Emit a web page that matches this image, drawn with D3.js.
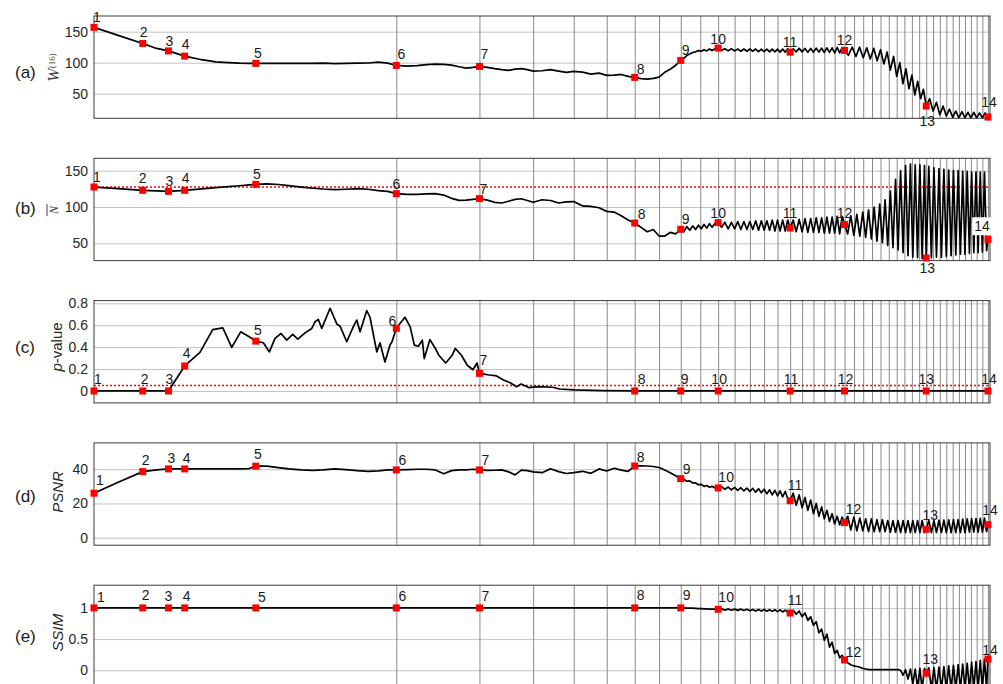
<!DOCTYPE html>
<html>
<head>
<meta charset="utf-8">
<title>Stage-wise metrics</title>
<script src="https://cdn.jsdelivr.net/npm/d3@7"></script>
<style>
  html, body { margin: 0; padding: 0; background: #fff; }
  svg { display: block; }
</style>
</head>
<body>
<svg id="fig" width="1003" height="684"></svg>
<script>
// ---------------------------------------------------------------------------
// Data
// ---------------------------------------------------------------------------

// iteration count of every plotted W sample (also the head of the finer grid)
const iter = [
  1, 1.5, 2.2, 2.7, 3.2, 4, 5, 6, 7, 8, 9, 9.7, 11, 12.5, 14, 16, 18, 20, 22.5, 25, 28, 31, 34, 37, 40,
  44, 48, 52, 56, 60, 64, 68, 72, 76, 80,
  85, 90, 95, 100, 105, 110, 115, 120,
  128, 136, 144, 152, 160,
  170, 180, 190, 200,
  210, 220, 230, 240,
  250, 260, 270, 280,
  290, 300, 310, 320,
  326, 332, 338, 344, 350, 356, 362, 368, 374, 380, 386, 393, 400,
  408, 416, 424, 432, 440, 448, 456, 464, 472, 480, 488, 496, 504, 512, 520, 528, 536, 544, 552, 560, 568, 576, 584, 592, 600,
  610, 620, 630, 640, 650, 660, 670, 680, 690, 700, 710, 720, 730, 740, 750, 760, 770, 780, 790, 800,
  816, 832, 848, 864, 880, 896, 912, 928, 944, 960, 976, 992, 1008, 1024, 1040, 1056, 1072, 1088, 1104, 1120, 1136, 1152, 1168, 1184, 1200,
  1220, 1240, 1260, 1280, 1300, 1320, 1340, 1360, 1380, 1400, 1420, 1440, 1460, 1480, 1500, 1520, 1540, 1560, 1580, 1600
];

// denser sampling after iteration 800 (used by N, PSNR and SSIM)
const fineTail = [
  813, 826, 839, 852, 865, 878, 891, 904, 917, 930, 943, 956, 969, 982, 995, 1008, 1021, 1034, 1047, 1060,
  1073, 1086, 1099, 1112, 1125, 1138, 1151, 1164, 1177, 1190, 1200,
  1215, 1230, 1245, 1260, 1275, 1290, 1305, 1320, 1335, 1350, 1365, 1380, 1395, 1410, 1425, 1440, 1455,
  1470, 1485, 1500, 1515, 1530, 1545, 1560, 1575, 1590, 1600
];
const iterFine = iter.filter(t => t <= 800).concat(fineTail);

// W^(16)
const wValues = [
  157, 144, 131, 123, 119, 110.6, 104.8, 101.3, 100, 99.2, 98.9, 98.9, 99, 99, 99, 99, 99, 99.2, 98.4, 99, 99.2, 99.5, 101, 99.3, 95.6,
  94.5, 95.2, 96.8, 97.7, 97.3, 96.1, 93.5, 91.3, 92.4, 94,
  92.4, 90.3, 88.7, 87.6, 89.7, 90.3, 88.7, 86.5,
  87, 88.7, 86.5, 84.4, 86,
  84.8, 81.6, 83.2, 79.5,
  80, 81, 78, 76.3,
  74.2, 73.5, 74.7, 76.8,
  84.5, 89.5, 95.5, 103.7,
  107, 111.5, 114, 116.5, 117.5, 119.5, 118.5, 121, 119, 122, 119.5, 122.5, 123.5,
  119.5, 122.5, 119, 122.5, 119, 122, 118.5, 122, 118.5, 122, 118.5, 122, 118, 122, 118, 122, 117.5, 122, 117.5, 122, 117, 122, 117, 122.5, 117,
  122.5, 117.5, 123, 117.5, 123, 117, 123, 117, 123.5, 117, 123.5, 116.5, 124, 116.5, 124, 116, 124.5, 116, 124.5, 119.8,
  112, 125, 110, 125, 108, 124, 106, 123, 103, 121, 98, 117, 88, 110, 78, 100, 66, 90, 58, 80, 48, 70, 42, 57, 30,
  42, 22, 36, 16, 30, 14, 25, 12, 22, 11, 21, 11, 20, 11, 20, 11, 19, 11, 19, 12.3
];

// mean N (on iterFine)
const nValues = [
  127.5, 125.3, 123, 122.3, 121.6, 123, 124.9, 126.6, 128, 129.3, 130.4, 131.2, 132, 131, 129.5, 127.5, 126, 124.8, 124, 124.5, 125.3, 124.5, 122.5, 121.5, 118.4,
  117.5, 117.5, 118, 118.4, 116.5, 112, 109.2, 109.5, 110.6, 111.6,
  109.5, 106.5, 105.5, 108, 110.6, 111.4, 109, 106.5,
  110, 109, 105.5, 107, 107.5,
  101.5, 101, 99, 94,
  93, 88, 82, 78,
  72, 66, 69, 60,
  60, 65, 63, 69.3,
  66, 73, 68, 74, 69, 75, 70, 76, 71, 77, 72, 78, 78.5,
  72, 79, 70, 79, 70, 80, 69, 80, 69, 80, 69, 81, 68, 81, 68, 81, 68, 82, 67, 82, 67, 82, 67, 82, 71,
  82, 66, 83, 66, 84, 65, 84, 65, 85, 65, 85, 64, 86, 64, 86, 64, 87, 63, 87, 75.8,
  63, 88, 61, 90, 60, 93, 58, 96, 56, 100, 53, 104, 51, 110, 47, 122, 44, 138, 41, 150,
  37, 157, 33, 159, 31, 158, 30, 158, 29, 157, 29.8,
  156, 30, 154, 31, 153, 31, 152, 32, 151, 33, 150, 34, 150, 35, 149, 35, 149, 36,
  148, 37, 148, 37, 148, 38, 148, 40, 55.6
];

// PSNR in dB (on iterFine)
const psnrValues = [
  26, 32.4, 38.6, 39.6, 40.2, 40.2, 40.2, 40.2, 40.2, 40.2, 40.4, 41.8, 41.8, 41, 40.2, 39.6, 39.3, 39.6, 40.2, 39.8, 39.2, 38.8, 39, 39.6, 39.6,
  39.8, 40, 40, 39.6, 37.4, 39.2, 39.6, 39.6, 40, 39.6,
  39.3, 39.4, 39.6, 38.5, 36.7, 39.5, 39.2, 38.5,
  38, 40.3, 38.6, 37.5, 38,
  38.8, 37.6, 40.2, 39,
  40.6, 39.5, 38.8, 41.9,
  42, 41.9, 41.6, 41,
  39.6, 38, 36.2, 34.5,
  34.2, 33, 33.2, 32, 32, 30.9, 31.2, 30, 30.5, 29.5, 30, 29, 29.1,
  29.8, 28.2, 29.6, 27.9, 29.4, 27.6, 29.2, 27.3, 29, 27, 28.8, 26.6, 28.6, 26.2, 28.3, 25.6, 28, 25, 27.7, 24.5, 27.4, 23.8, 27, 23, 21.6,
  26, 19, 25, 17.5, 23.5, 16, 22, 14, 20, 12.5, 18, 11, 16, 9.5, 14, 8, 12.5, 7.5, 12, 8.8,
  12.5, 4.5, 12, 4, 11.5, 4, 11, 3.5, 11, 3.5, 10.5, 3.5, 10.5, 3.5, 10, 3.2, 10, 3.2, 10, 3, 10,
  3, 10, 3, 10, 3, 10, 3, 10, 3, 4.9,
  10, 3, 10, 3, 10.2, 3, 10.3, 3, 10.4, 3, 10.5, 3, 10.6, 3, 10.8, 3, 11, 3.2,
  11.1, 3.2, 11.2, 3.2, 11.3, 3.2, 11.4, 3.5, 7.6
];

// SSIM (on iterFine)
const ssimValues = [
  1, 1, 1, 1, 1, 1, 1, 1, 1, 1, 1, 1, 1, 1, 1, 1, 1, 1, 1, 1, 1, 1, 1, 1, 1,
  1, 1, 1, 1, 1, 1, 1, 1, 1, 1,
  1, 1, 1, 1, 1, 1, 1, 1,
  1, 1, 1, 1, 1,
  1, 1, 1, 1,
  1, 1, 1, 1,
  1, 1, 1, 1,
  1, 1, 1, 1,
  1, 0.998, 0.996, 0.995, 0.993, 0.99, 0.988, 0.986, 0.984, 0.982, 0.98, 0.979, 0.978,
  0.985, 0.965, 0.983, 0.963, 0.981, 0.96, 0.98, 0.958, 0.978, 0.955, 0.976, 0.952, 0.975, 0.95, 0.974, 0.947, 0.972, 0.944, 0.97, 0.94, 0.968, 0.935, 0.965, 0.93, 0.918,
  0.96, 0.9, 0.95, 0.86, 0.92, 0.8, 0.86, 0.72, 0.78, 0.6, 0.66, 0.48, 0.58, 0.37, 0.45, 0.27, 0.32, 0.2, 0.24, 0.165,
  0.12, 0.09, 0.07, 0.06, 0.05, 0.03, 0.02, 0.01, 0.01, 0.01, 0.01, 0.01, 0.01, 0.01, 0.01, 0.01, 0.01, 0.01, 0.01, 0,
  -0.08, 0.01, -0.14, 0.02, -0.22, 0.02, -0.28, 0.03, -0.3, 0.03, -0.048,
  0.04, -0.3, 0.045, -0.3, 0.05, -0.3, 0.06, -0.3, 0.07, -0.3, 0.08, -0.3, 0.09, -0.3, 0.1, -0.3, 0.11, -0.3,
  0.13, -0.3, 0.14, -0.3, 0.16, -0.3, 0.18, -0.3, 0.181
];

// p-value, traced on its own iteration grid
const pIter = [
  1, 2.2, 3.2, 4, 4.9, 5.77, 6.55, 7.3, 8.13, 8.9, 9.7, 10.57, 11.31, 12.05, 12.87, 13.69, 14.61, 15.41,
  16.63, 17.83, 18.44, 19.07, 19.74, 21.46, 22.93, 23.68, 25.27, 26.92, 27.82, 28.7, 30.56, 31.5, 33.52,
  34.54, 36.13, 37.79, 38.5, 40, 43.15, 45.15, 46.85, 48.5, 50.15, 51, 53.5, 56, 57.65, 61, 64.35, 66,
  69.35, 72.65, 76, 78.5, 80, 86.4, 91.3, 96.3, 101.3, 106.2, 109.9, 116.1, 124.7, 138, 144.7, 160, 195,
  240, 320, 400, 600, 800, 1200, 1600
];
const pValues = [
  0, 0, 0, 0.228, 0.352, 0.56, 0.576, 0.398, 0.54, 0.5, 0.455, 0.44, 0.357, 0.48, 0.525, 0.464, 0.516, 0.473,
  0.53, 0.571, 0.632, 0.653, 0.571, 0.755, 0.612, 0.592, 0.449, 0.587, 0.647, 0.54, 0.734, 0.673, 0.357,
  0.439, 0.265, 0.418, 0.449, 0.572, 0.673, 0.587, 0.418, 0.408, 0.464, 0.296, 0.469, 0.388, 0.326, 0.255, 0.326, 0.388,
  0.326, 0.235, 0.194, 0.255, 0.161, 0.146, 0.137, 0.1, 0.075, 0.039, 0.063, 0.031, 0.039, 0.034, 0.018, 0.01, 0.003,
  0, 0, 0, 0, 0, 0, 0
];

// the fourteen highlighted stages
const stageIter = [1, 2.2, 3.2, 4, 9.7, 40, 80, 240, 320, 400, 600, 800, 1200, 1600];
const stageW    = [157, 131, 119, 110.6, 98.9, 95.6, 94, 76.3, 103.7, 123.5, 117, 119.8, 30, 12.3];
const stageN    = [127.5, 123, 121.6, 123, 131.2, 118.4, 111.6, 78, 69.3, 78.5, 71, 75.8, 29.8, 55.6];
const stageP    = [0, 0, 0, 0.228, 0.455, 0.572, 0.161, 0, 0, 0, 0, 0, 0, 0];
const stagePSNR = [26, 38.6, 40.2, 40.2, 41.8, 39.6, 39.6, 41.9, 34.5, 29.1, 21.6, 8.8, 4.9, 7.6];
const stageSSIM = [1, 1, 1, 1, 1, 1, 1, 1, 1, 0.978, 0.918, 0.165, -0.048, 0.181];
const stageNames = ['1', '2', '3', '4', '5', '6', '7', '8', '9', '10', '11', '12', '13', '14'];

// reference levels (red dotted lines)
const refN = 127.5;
const refP = 0.05;

// vertical grid positions (every 40 iterations)
const gridIter = [
  40, 80, 120, 160, 200, 240, 280, 320, 360, 400, 440, 480, 520, 560, 600, 640, 680, 720, 760, 800,
  840, 880, 920, 960, 1000, 1040, 1080, 1120, 1160, 1200, 1240, 1280, 1320, 1360, 1400, 1440, 1480, 1520, 1560, 1600
];

// y tick values per panel
const ticksW = [50, 100, 150];
const ticksN = [50, 100, 150];
const ticksP = [0, 0.2, 0.4, 0.6, 0.8];
const ticksPSNR = [0, 20, 40];
const ticksSSIM = [0, 0.5, 1];

// ---------------------------------------------------------------------------
// Layout
// ---------------------------------------------------------------------------
const svg = d3.select('#fig');
const left = 94, right = 990;
const top0 = 16, step = 142.3, plotH = 102.3;
const sans = '"Liberation Sans", Arial, Helvetica, sans-serif';
const serif = '"Liberation Serif", "DejaVu Serif", "Times New Roman", serif';
const ink = '#262626';

const x = d3.scalePow().exponent(0.182).domain([1, 1615]).range([left, right]);

// nudges of the stage numbers relative to their markers, per panel
const labelNudge = [
  [[3,-5],[1,-6],[1,-5],[1,-7],[2,-5],[5,-6],[5,-7],[6,-3],[5,-5],[0,-4],[0,-5],[0,-5],[1,20],[1,-10]],
  [[3,-5],[0,-7],[1,-5],[1,-7],[1,-5],[0,-5],[4,-5],[7,-4],[5,-5],[0,-5],[0,-10],[0,-7],[1,15],[-6,-8]],
  [[4,-7],[2,-7],[1,-7],[2,-8],[2,-6],[-4,-2],[4,-8],[7,-7],[4,-7],[1,-7],[1,-7],[1,-7],[0,-7],[1,-7]],
  [[6,-8],[3,-7],[3,-6],[2,-6],[2,-7],[6,-5],[6,-5],[6,-4],[6,-5],[8,-6],[5,-11],[9,-9],[4,-9],[2,-10]],
  [[7,-6],[3,-8],[0,-7],[2,-7],[6,-6],[6,-7],[6,-7],[6,-8],[6,-8],[8,-7],[5,-8],[9,-3],[4,-9],[2,-4]]
];

const panels = [
  { tag: '(a)', tagY: 78,  xs: iter,     ys: wValues,    stages: stageW,    ticks: ticksW,    domain: [10.3, 175.3], ref: null, boxed: [] },
  { tag: '(b)', tagY: 214, xs: iterFine, ys: nValues,    stages: stageN,    ticks: ticksN,    domain: [26.2, 167.1], ref: refN, boxed: ['14'] },
  { tag: '(c)', tagY: 353, xs: pIter,    ys: pValues,    stages: stageP,    ticks: ticksP,    domain: [-0.109, 0.825], ref: refP, boxed: [] },
  { tag: '(d)', tagY: 502, xs: iterFine, ys: psnrValues, stages: stagePSNR, ticks: ticksPSNR, domain: [-4.4, 55.4], ref: null, boxed: [] },
  { tag: '(e)', tagY: 642, xs: iterFine, ys: ssimValues, stages: stageSSIM, ticks: ticksSSIM, domain: [-0.276, 1.364], ref: null, boxed: [] }
];

const defs = svg.append('defs');

panels.forEach((p, i) => {
  const top = top0 + i * step;
  const bottom = top + plotH;
  const y = d3.scaleLinear().domain(p.domain).range([bottom, top]);
  const g = svg.append('g');

  defs.append('clipPath').attr('id', 'plot' + i)
    .append('rect').attr('x', left).attr('y', top).attr('width', right - left).attr('height', plotH);

  // horizontal grid + tick labels
  g.append('g')
    .attr('transform', `translate(${left},0)`)
    .call(d3.axisLeft(y).tickValues(p.ticks).tickSize(-(right - left)).tickPadding(6).tickFormat(d3.format('~g')))
    .call(a => {
      a.select('.domain').remove();
      a.selectAll('.tick line').attr('stroke', '#c2c2c2').attr('stroke-width', 1);
      a.selectAll('.tick text').attr('fill', ink).attr('font-size', 14).attr('font-family', sans);
    });

  // vertical grid
  g.append('g')
    .attr('transform', `translate(0,${bottom})`)
    .call(d3.axisBottom(x).tickValues(gridIter).tickSize(-plotH).tickFormat(''))
    .call(a => {
      a.select('.domain').remove();
      a.selectAll('.tick line').attr('stroke', '#8a8a8a').attr('stroke-width', 1);
    });

  // axes box
  g.append('rect')
    .attr('x', left).attr('y', top).attr('width', right - left).attr('height', plotH)
    .attr('fill', 'none').attr('stroke', '#3a3a3a').attr('stroke-width', 1);

  // red dotted reference level
  if (p.ref !== null) {
    g.append('line')
      .attr('x1', left).attr('x2', right)
      .attr('y1', y(p.ref)).attr('y2', y(p.ref))
      .attr('stroke', '#ff0000').attr('stroke-width', 1.5).attr('stroke-dasharray', '2,2');
  }

  // metric curve
  const line = d3.line().x(d => x(d[0])).y(d => y(d[1]));
  g.append('path')
    .datum(d3.zip(p.xs, p.ys))
    .attr('clip-path', `url(#plot${i})`)
    .attr('d', line)
    .attr('fill', 'none')
    .attr('stroke', '#000')
    .attr('stroke-width', 1.7)
    .attr('stroke-linejoin', 'round');

  // stage markers
  g.selectAll('rect.stage')
    .data(d3.zip(stageIter, p.stages))
    .join('rect')
    .attr('class', 'stage')
    .attr('x', d => x(d[0]) - 3.5).attr('y', d => y(d[1]) - 3.5)
    .attr('width', 7).attr('height', 7)
    .attr('fill', '#ff0000');

  // stage numbers
  stageNames.forEach((name, k) => {
    const nx = x(stageIter[k]) + labelNudge[i][k][0];
    const ny = y(p.stages[k]) + labelNudge[i][k][1];
    const t = g.append('text')
      .attr('x', nx).attr('y', ny)
      .attr('text-anchor', 'middle')
      .attr('font-family', sans).attr('font-size', 14).attr('fill', '#1a1a1a')
      .text(name);
    if (p.boxed.includes(name)) {
      const bb = t.node().getBBox();
      g.insert('rect', () => t.node())
        .attr('x', bb.x - 2).attr('y', bb.y - 1).attr('width', bb.width + 4).attr('height', bb.height + 2)
        .attr('fill', '#fff');
    }
  });

  // panel tag
  svg.append('text')
    .attr('x', 15).attr('y', p.tagY)
    .attr('font-family', sans).attr('font-size', 17).attr('fill', '#1a1a1a')
    .text(p.tag);
});

// ---------------------------------------------------------------------------
// y-axis titles
// ---------------------------------------------------------------------------
const tW = svg.append('text')
  .attr('transform', 'translate(59,67.5) rotate(-90)')
  .attr('text-anchor', 'middle').attr('font-family', serif).attr('fill', '#404040');
tW.append('tspan').attr('font-style', 'italic').attr('font-size', 16).text('W');
tW.append('tspan').attr('font-size', 9).attr('dy', -4).text('(16)');

const tN = svg.append('g').attr('transform', 'translate(57.5,210) rotate(-90)');
tN.append('text').attr('text-anchor', 'middle').attr('font-family', serif)
  .attr('font-style', 'italic').attr('font-size', 12).attr('fill', '#404040').text('N');
tN.append('line').attr('x1', -6).attr('x2', 6).attr('y1', -10.5).attr('y2', -10.5)
  .attr('stroke', '#404040').attr('stroke-width', 1);

const tP = svg.append('text')
  .attr('transform', 'translate(62,347) rotate(-90)')
  .attr('text-anchor', 'middle').attr('font-family', sans).attr('font-size', 15).attr('fill', ink);
tP.append('tspan').attr('font-style', 'italic').text('p');
tP.append('tspan').text('-value');

svg.append('text')
  .attr('transform', 'translate(63,492) rotate(-90)')
  .attr('text-anchor', 'middle').attr('font-family', sans).attr('font-size', 15)
  .attr('font-style', 'italic').attr('fill', ink).text('PSNR');

svg.append('text')
  .attr('transform', 'translate(63,632.5) rotate(-90)')
  .attr('text-anchor', 'middle').attr('font-family', sans).attr('font-size', 15.5)
  .attr('font-style', 'italic').attr('fill', ink).text('SSIM');
</script>
</body>
</html>
